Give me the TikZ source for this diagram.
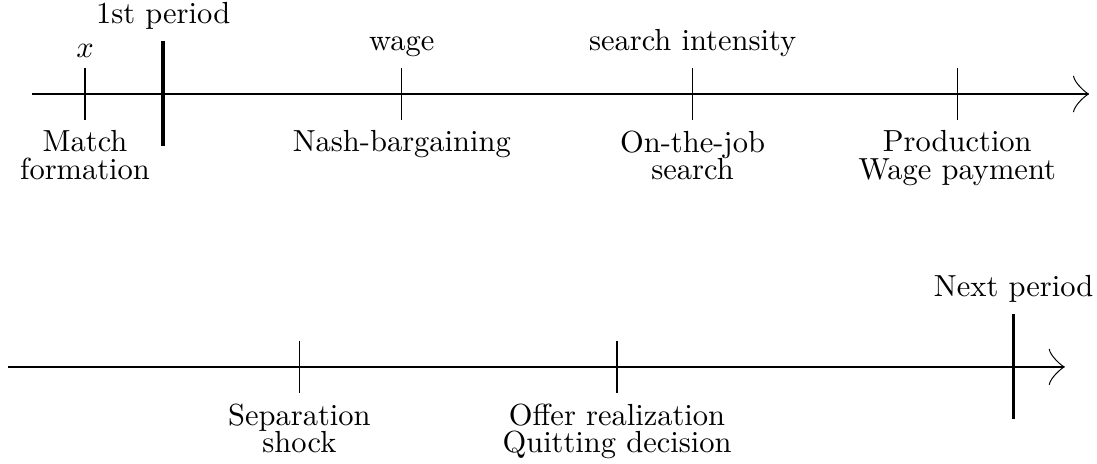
\documentclass[tikz,border=0pt]{standalone}
\usepackage{amsmath}
\usetikzlibrary{arrows.meta}

\begin{document}
\begin{tikzpicture}[
    tick/.style={thin},
    period/.style={line width=1.1pt},
    lbl/.style={align=center, font=\fontsize{10pt}{9pt}\selectfont},
    >={Classical TikZ Rightarrow[length=5.3pt, width=12pt]}
  ]
    \useasboundingbox (0,1.083) rectangle (12.64,-4.263);

    % first row
    \coordinate (s1) at (0.37,0);
    \coordinate (e1) at (12.55,0);
    \draw[->] (s1) -- (e1);

    \draw[tick] (0.98,0.3) node[above] (x) {$x$}
        -- (0.98,-0.3) node[below, lbl] (match) {Match\\formation};
    \draw[period] (1.88,0.61) node[above] (first) {1st period}
        -- (1.88,-0.6);
    \draw[tick] (4.63,0.3) node[above] (wage) {wage}
        -- (4.63,-0.3) node[below, lbl] (nash) {Nash-bargaining};
    \draw[tick] (7.98,0.3) node[above] (intens) {search intensity}
        -- (7.98,-0.3) node[below, lbl] (ojs) {On-the-job\\search};
    \draw[tick] (11.03,0.3)
        -- (11.03,-0.3) node[below, lbl] (prod) {Production\\Wage payment};

    % second row
    \coordinate (s2) at (0.09,-3.145);
    \coordinate (e2) at (12.27,-3.145);
    \draw[->] (s2) -- (e2);

    \draw[tick] (3.45,-2.845)
        -- (3.45,-3.445) node[below, lbl] (sep) {Separation\\shock};
    \draw[tick] (7.11,-2.845)
        -- (7.11,-3.445) node[below, lbl] (offer) {Offer realization\\Quitting decision};
    \draw[period] (11.68,-2.535) node[above] (next) {Next period}
        -- (11.68,-3.745);
\end{tikzpicture}
\end{document}
